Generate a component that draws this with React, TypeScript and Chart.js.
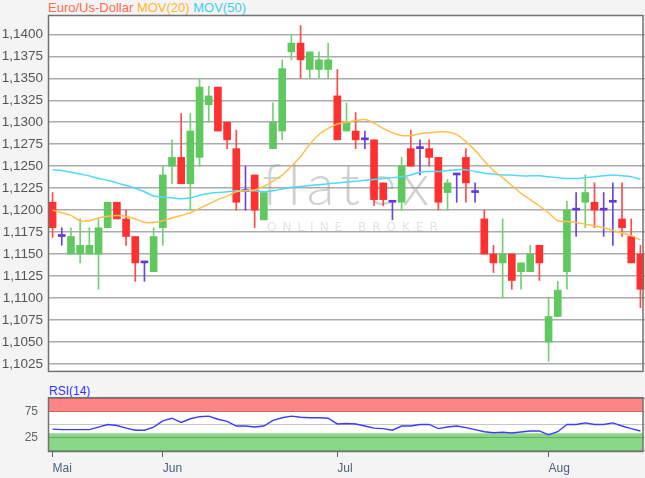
import React, { useEffect, useRef } from 'react';
import { Chart, registerables } from 'chart.js';

Chart.register(...registerables);

const opens = [
  1.1209, 1.1170, 1.1150, 1.1150, 1.1150, 1.1150, 1.1180, 1.1209, 1.1190, 1.1170,
  1.1140, 1.1130, 1.1180, 1.1250, 1.1260, 1.1230, 1.1260, 1.1320, 1.1340, 1.1300,
  1.1270, 1.1221, 1.1240, 1.1189, 1.1270, 1.1290, 1.1380, 1.1390, 1.1360, 1.1360,
  1.1360, 1.1330, 1.1290, 1.1290, 1.1280, 1.1280, 1.1231, 1.1209, 1.1209, 1.1270,
  1.1270, 1.1270, 1.1260, 1.1220, 1.1240, 1.1260, 1.1220, 1.1190, 1.1150, 1.1140,
  1.1150, 1.1130, 1.1130, 1.1160, 1.1050, 1.1079, 1.1130, 1.1200, 1.1209, 1.1209,
  1.1200, 1.1209, 1.1190, 1.1170, 1.1150,
];
const closes = [
  1.1180, 1.1170, 1.1170, 1.1160, 1.1160, 1.1180, 1.1209, 1.1190, 1.1170, 1.1140,
  1.1140, 1.1170, 1.1240, 1.1260, 1.1230, 1.1290, 1.1340, 1.1330, 1.1290, 1.1280,
  1.1209, 1.1221, 1.1200, 1.1220, 1.1300, 1.1361, 1.1390, 1.1371, 1.1380, 1.1371,
  1.1371, 1.1280, 1.1300, 1.1280, 1.1280, 1.1212, 1.1212, 1.1209, 1.1250, 1.1250,
  1.1270, 1.1260, 1.1209, 1.1231, 1.1240, 1.1231, 1.1220, 1.1150, 1.1140, 1.1150,
  1.1120, 1.1140, 1.1150, 1.1140, 1.1079, 1.1109, 1.1200, 1.1200, 1.1220, 1.1200,
  1.1200, 1.1209, 1.1180, 1.1140, 1.1110,
];
const highs = [
  1.1220, 1.1180, 1.1180, 1.1190, 1.1180, 1.1190, 1.1209, 1.1209, 1.1200, 1.1170,
  1.1140, 1.1180, 1.1250, 1.1280, 1.1310, 1.1310, 1.1350, 1.1341, 1.1340, 1.1300,
  1.1291, 1.1250, 1.1240, 1.1220, 1.1322, 1.1371, 1.1400, 1.1410, 1.1380, 1.1380,
  1.1390, 1.1360, 1.1322, 1.1311, 1.1290, 1.1280, 1.1231, 1.1209, 1.1260, 1.1291,
  1.1280, 1.1280, 1.1260, 1.1235, 1.1240, 1.1270, 1.1231, 1.1200, 1.1160, 1.1190,
  1.1150, 1.1140, 1.1160, 1.1160, 1.1100, 1.1119, 1.1210, 1.1220, 1.1240, 1.1231,
  1.1220, 1.1231, 1.1231, 1.1190, 1.1160,
];
const lows = [
  1.1169, 1.1160, 1.1150, 1.1140, 1.1150, 1.1110, 1.1180, 1.1190, 1.1160, 1.1119,
  1.1119, 1.1130, 1.1160, 1.1230, 1.1230, 1.1200, 1.1250, 1.1300, 1.1290, 1.1270,
  1.1200, 1.1200, 1.1180, 1.1189, 1.1270, 1.1280, 1.1371, 1.1350, 1.1350, 1.1350,
  1.1350, 1.1280, 1.1290, 1.1270, 1.1270, 1.1205, 1.1205, 1.1189, 1.1200, 1.1250,
  1.1240, 1.1250, 1.1200, 1.1200, 1.1209, 1.1209, 1.1209, 1.1150, 1.1129, 1.1100,
  1.1110, 1.1110, 1.1130, 1.1120, 1.1028, 1.1079, 1.1110, 1.1170, 1.1180, 1.1180,
  1.1170, 1.1160, 1.1170, 1.1140, 1.1089,
];
const mov20 = [
  1.1200, 1.1197, 1.1194, 1.1188, 1.1188, 1.1191, 1.1193, 1.1194, 1.1193, 1.1190,
  1.1186, 1.1186, 1.1188, 1.1191, 1.1194, 1.1197, 1.1202, 1.1207, 1.1212, 1.1216,
  1.1221, 1.1222, 1.1223, 1.1227, 1.1233, 1.1240, 1.1250, 1.1261, 1.1275, 1.1286,
  1.1293, 1.1298, 1.1300, 1.1302, 1.1303, 1.1299, 1.1293, 1.1288, 1.1285, 1.1285,
  1.1287, 1.1288, 1.1289, 1.1289, 1.1286, 1.1278, 1.1268, 1.1256, 1.1245, 1.1237,
  1.1228, 1.1219, 1.1212, 1.1205, 1.1197, 1.1188, 1.1187, 1.1186, 1.1184, 1.1182,
  1.1180, 1.1177, 1.1174, 1.1171, 1.1166,
];
const mov50 = [
  1.1246, 1.1245, 1.1243, 1.1241, 1.1239, 1.1236, 1.1234, 1.1231, 1.1228, 1.1225,
  1.1221, 1.1216, 1.1215, 1.1214, 1.1213, 1.1214, 1.1217, 1.1219, 1.1220, 1.1221,
  1.1222, 1.1222, 1.1222, 1.1221, 1.1222, 1.1224, 1.1226, 1.1227, 1.1228, 1.1229,
  1.1230, 1.1231, 1.1232, 1.1233, 1.1234, 1.1235, 1.1236, 1.1237, 1.1238, 1.1240,
  1.1243, 1.1244, 1.1244, 1.1245, 1.1246, 1.1246, 1.1244, 1.1242, 1.1241, 1.1240,
  1.1240, 1.1239, 1.1239, 1.1239, 1.1238, 1.1237, 1.1236, 1.1236, 1.1237, 1.1238,
  1.1239, 1.1240, 1.1239, 1.1238, 1.1235,
];
const rsi14 = [
  41, 40, 40, 40, 40, 45, 50, 48, 43, 39,
  39, 45, 57, 62, 54, 61, 65, 66, 60, 56,
  47, 47, 45, 47, 58, 63, 66, 64, 63, 63,
  62, 51, 52, 51, 47, 43, 42, 39, 47, 47,
  50, 50, 42, 45, 47, 44, 40, 36, 34, 35,
  33.5, 35.5, 37.5, 37.5, 30, 36, 50, 50, 53, 50,
  50, 53, 47, 42, 37.5,
];
const yTicks = [
  1.1025, 1.105, 1.1075, 1.11, 1.1125, 1.115, 1.1175, 1.12,
  1.1225, 1.125, 1.1275, 1.13, 1.1325, 1.135, 1.1375, 1.14,
];
const rsiTicks = [0, 25, 50, 75, 100];
const rsiLabelled = [25, 75];
const monthLabels = ['Mai', 'Jun', 'Jul', 'Aug'];
const monthIndex = [0, 12, 31, 54];
const dayLabels = opens.map((_, i) => String(i));

const UP = '#5fc85f';
const DOWN = '#ff3030';
const FLAT = '#6038dc';
const UP_W = '#74d074';
const DOWN_W = '#ff4a4a';
const FLAT_W = '#6a44e0';

const kind = (i: number) => (closes[i] > opens[i] ? 1 : closes[i] < opens[i] ? -1 : 0);

const FONT = '"Liberation Sans", Arial, Helvetica, sans-serif';

export default function App() {
  const mainRef = useRef<HTMLCanvasElement | null>(null);
  const rsiRef = useRef<HTMLCanvasElement | null>(null);

  useEffect(() => {
    const bodies = opens.map((o, i) => [o, closes[i]]);
    const wicks = lows.map((l, i) => [l, highs[i]]);
    const bodyColors = opens.map((_, i) => (kind(i) > 0 ? UP : kind(i) < 0 ? DOWN : FLAT));
    const wickColors = opens.map((_, i) => (kind(i) > 0 ? UP_W : kind(i) < 0 ? DOWN_W : FLAT_W));

    const areaBg = {
      id: 'areaBg',
      beforeDraw(chart: any) {
        const { ctx, chartArea: a } = chart;
        ctx.save();
        ctx.fillStyle = '#ffffff';
        ctx.fillRect(a.left, a.top, a.right - 2 - a.left, a.bottom - a.top);
        ctx.restore();
      },
    };
    const frame = {
      id: 'frame',
      afterDraw(chart: any) {
        const { ctx, chartArea: a } = chart;
        ctx.save();
        ctx.strokeStyle = '#727272';
        ctx.lineWidth = 1.5;
        ctx.strokeRect(a.left + 0.5, a.top + 0.5, a.right - 2.5 - a.left, a.bottom - a.top - 1);
        ctx.restore();
      },
    };
    const watermark = {
      id: 'watermark',
      beforeDatasetsDraw(chart: any) {
        const { ctx } = chart;
        ctx.save();
        ctx.fillStyle = 'rgba(150,150,150,0.45)';
        ctx.font = '300 58px Lato, "Open Sans", sans-serif';
        ctx.textBaseline = 'alphabetic';
        (ctx as any).letterSpacing = '6px';
        ctx.fillText('flatex', 262, 205);
        ctx.fillStyle = 'rgba(190,190,190,0.45)';
        ctx.font = '12px "DejaVu Sans", sans-serif';
        (ctx as any).letterSpacing = '6px';
        ctx.fillText('ONLINE BROKER', 267, 231);
        ctx.restore();
      },
    };

    const main = new Chart(mainRef.current as HTMLCanvasElement, {
      type: 'bar',
      data: {
        labels: dayLabels,
        datasets: [
          {
            type: 'line',
            data: mov20,
            borderColor: '#ffbf4a',
            borderWidth: 1.5,
            pointRadius: 0,
            tension: 0.3,
            order: 0,
          } as any,
          {
            type: 'line',
            data: mov50,
            borderColor: '#4fd8ff',
            borderWidth: 1.5,
            pointRadius: 0,
            tension: 0.3,
            order: 0,
          } as any,
          {
            type: 'bar',
            data: bodies,
            backgroundColor: bodyColors,
            barThickness: 7,
            minBarLength: 2,
            grouped: false,
            order: 1,
          } as any,
          {
            type: 'bar',
            data: wicks,
            backgroundColor: wickColors,
            barThickness: 1,
            grouped: false,
            order: 2,
          } as any,
        ],
      },
      options: {
        animation: false,
        responsive: false,
        maintainAspectRatio: false,
        layout: { padding: { top: 15, right: 0, bottom: 4, left: 0 } },
        plugins: { legend: { display: false }, tooltip: { enabled: false } },
        scales: {
          x: { display: false, offset: true },
          y: {
            min: 1.1016,
            max: 1.1422,
            afterFit: (s: any) => {
              s.width = 48;
            },
            afterBuildTicks: (s: any) => {
              s.ticks = yTicks.map((v) => ({ value: v }));
            },
            ticks: {
              autoSkip: false,
              padding: 5,
              color: '#555555',
              font: { family: FONT, size: 13.5 },
              callback: (v: any) => Number(v).toFixed(4).replace('.', ','),
            },
            grid: { color: '#ababab', lineWidth: 1.5, drawTicks: false },
            border: { display: false },
          },
        },
      },
      plugins: [areaBg, watermark, frame],
    });

    const rsiBands = {
      id: 'rsiBands',
      beforeDraw(chart: any) {
        const { ctx, chartArea: a, scales } = chart;
        const y = scales.y;
        const w = a.right - 2 - a.left;
        ctx.save();
        ctx.fillStyle = '#ffffff';
        ctx.fillRect(a.left, a.top, w, a.bottom - a.top);
        ctx.fillStyle = '#ff8585';
        const r = y.getPixelForValue(74);
        ctx.fillRect(a.left, a.top, w, r - a.top);
        ctx.fillStyle = '#88d888';
        const g = y.getPixelForValue(33);
        ctx.fillRect(a.left, g, w, a.bottom - g);
        ctx.restore();
      },
    };

    const rsi = new Chart(rsiRef.current as HTMLCanvasElement, {
      type: 'line',
      data: {
        labels: dayLabels,
        datasets: [
          {
            data: rsi14,
            borderColor: '#3c3cff',
            borderWidth: 1.4,
            pointRadius: 0,
            tension: 0,
          },
        ],
      },
      options: {
        animation: false,
        responsive: false,
        maintainAspectRatio: false,
        layout: { padding: { top: 17, right: 0, bottom: 0, left: 0 } },
        plugins: { legend: { display: false }, tooltip: { enabled: false } },
        scales: {
          x: {
            offset: true,
            afterFit: (s: any) => {
              s.height = 26;
            },
            grid: {
              drawOnChartArea: false,
              drawTicks: true,
              tickLength: 5,
              offset: false,
              color: (c: any) => (monthIndex.includes(c.index) ? '#5a6070' : 'rgba(0,0,0,0)'),
            },
            border: { display: false },
            ticks: {
              autoSkip: false,
              maxRotation: 0,
              minRotation: 0,
              align: 'start',
              padding: 4,
              color: '#4d5f7a',
              font: { family: FONT, size: 12 },
              callback: (_v: any, i: number) => {
                const k = monthIndex.indexOf(i);
                return k >= 0 ? monthLabels[k] : '';
              },
            },
          },
          y: {
            min: -3,
            max: 102.5,
            afterFit: (s: any) => {
              s.width = 48;
            },
            afterBuildTicks: (s: any) => {
              s.ticks = rsiTicks.map((v) => ({ value: v }));
            },
            ticks: {
              autoSkip: false,
              padding: 10,
              color: '#666666',
              font: { family: FONT, size: 12 },
              callback: (v: any) => (rsiLabelled.includes(Number(v)) ? String(v) : ''),
            },
            grid: { color: 'rgba(0,0,0,0.22)', lineWidth: 1, drawTicks: false },
            border: { display: false },
          },
        },
      },
      plugins: [rsiBands, frame],
    });

    return () => {
      main.destroy();
      rsi.destroy();
    };
  }, []);

  return (
    <div
      style={{
        position: 'fixed',
        left: 0,
        top: 0,
        width: 645,
        height: 478,
        background: '#f4f4f4',
        overflow: 'hidden',
      }}
    >
      <div
        style={{
          position: 'absolute',
          left: 48,
          top: 0,
          font: `13px ${FONT}`,
          lineHeight: '15px',
          whiteSpace: 'nowrap',
        }}
      >
        <span style={{ color: '#ff6a4d' }}>Euro/Us-Dollar</span>{' '}
        <span style={{ color: '#ffb52e' }}>MOV(20)</span>{' '}
        <span style={{ color: '#3ccdf5' }}>MOV(50)</span>
      </div>
      <div
        style={{
          position: 'absolute',
          left: 49,
          top: 384,
          font: `12px ${FONT}`,
          lineHeight: '14px',
          color: '#3030ff',
          whiteSpace: 'nowrap',
        }}
      >
        RSI(14)
      </div>
      <canvas
        ref={mainRef}
        width={645}
        height={385}
        style={{ position: 'absolute', left: 0, top: 0, width: 645, height: 385 }}
      />
      <canvas
        ref={rsiRef}
        width={645}
        height={98}
        style={{ position: 'absolute', left: 0, top: 380, width: 645, height: 98 }}
      />
    </div>
  );
}
